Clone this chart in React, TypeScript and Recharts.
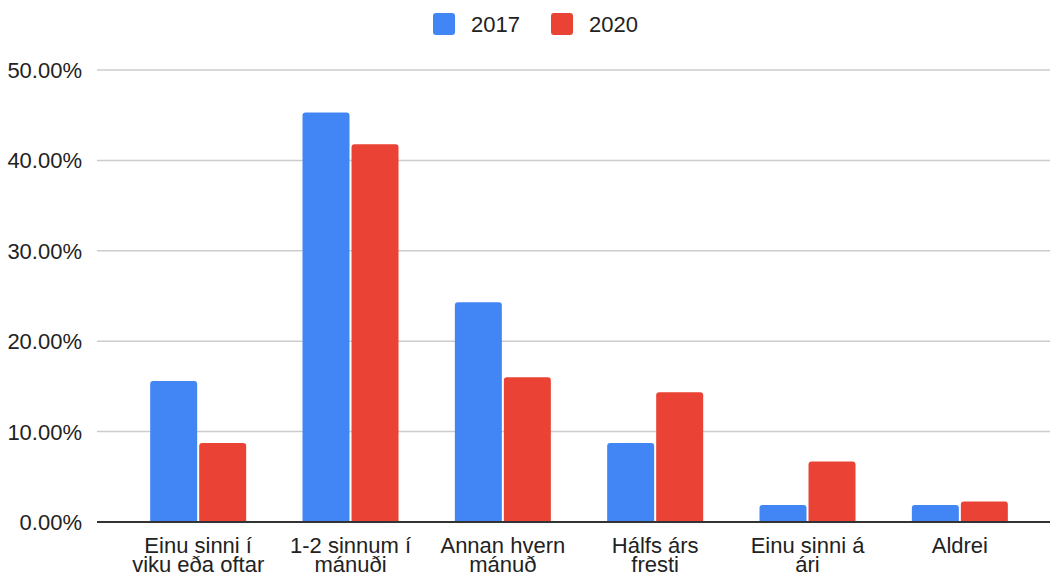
import React from "react";
import { BarChart, Bar, XAxis, YAxis, CartesianGrid, ReferenceLine } from "recharts";

const categories = [
  "Einu sinni í\nviku eða oftar",
  "1-2 sinnum í\nmánuði",
  "Annan hvern\nmánuð",
  "Hálfs árs\nfresti",
  "Einu sinni á\nári",
  "Aldrei",
];
const values2017 = [15.6, 45.3, 24.3, 8.75, 1.88, 1.88];
const values2020 = [8.75, 41.8, 16.0, 14.35, 6.68, 2.28];
const yTicks = [0, 10, 20, 30, 40, 50];
const seriesNames = ["2017", "2020"];
const seriesColors = ["#4285F4", "#EA4335"];

const data = categories.map((c, i) => ({
  name: c,
  v2017: values2017[i],
  v2020: values2020[i],
}));

const FONT = "Arial, 'Liberation Sans', sans-serif";
const TEXT = "#222222";

const XTick = (props: any) => {
  const { x, y, payload } = props;
  const lines = String(payload.value).split("\n");
  return (
    <g transform={`translate(${x},${y})`}>
      {lines.map((l: string, i: number) => (
        <text
          key={i}
          x={0}
          y={23 + i * 19}
          textAnchor="middle"
          fontFamily={FONT}
          fontSize={22}
          fill={TEXT}
        >
          {l}
        </text>
      ))}
    </g>
  );
};

const YTick = (props: any) => {
  const { x, y, payload } = props;
  return (
    <text
      x={x}
      y={y}
      dy={8}
      textAnchor="end"
      fontFamily={FONT}
      fontSize={22}
      fill={TEXT}
    >
      {`${Number(payload.value).toFixed(2)}%`}
    </text>
  );
};

const Legend = () => (
  <svg width={1050} height={50} style={{ position: "absolute", left: 0, top: 0 }}>
    {seriesNames.map((n, i) => {
      const x0 = i === 0 ? 433 : 551;
      return (
        <g key={n}>
          <rect x={x0} y={13} width={22} height={22} rx={3} fill={seriesColors[i]} />
          <text x={x0 + 38} y={32} fontFamily={FONT} fontSize={22} fill={TEXT}>
            {n}
          </text>
        </g>
      );
    })}
  </svg>
);

export default function App() {
  return (
    <div style={{ position: "absolute", left: 0, top: 0, width: 1050, height: 577, background: "#fff" }}>
      <BarChart
        width={1050}
        height={577}
        data={data}
        margin={{ top: 70, right: 0, bottom: 0, left: 0 }}
        barCategoryGap="18.5%"
        barGap={2}
      >
        <CartesianGrid vertical={false} stroke="#cccccc" strokeWidth={1.5} />
        <XAxis
          dataKey="name"
          height={55}
          tick={<XTick />}
          tickLine={false}
          axisLine={false}
          interval={0}
          padding={{ left: 25, right: 14 }}
        />
        <YAxis
          width={97}
          domain={[0, 50]}
          ticks={yTicks}
          tick={<YTick />}
          tickLine={false}
          axisLine={false}
          tickMargin={9}
        />
        <Bar dataKey="v2017" fill={seriesColors[0]} radius={[3, 3, 0, 0]} isAnimationActive={false} />
        <Bar dataKey="v2020" fill={seriesColors[1]} radius={[3, 3, 0, 0]} isAnimationActive={false} />
        <ReferenceLine y={0} stroke="#333333" strokeWidth={2} />
      </BarChart>
      <Legend />
    </div>
  );
}
